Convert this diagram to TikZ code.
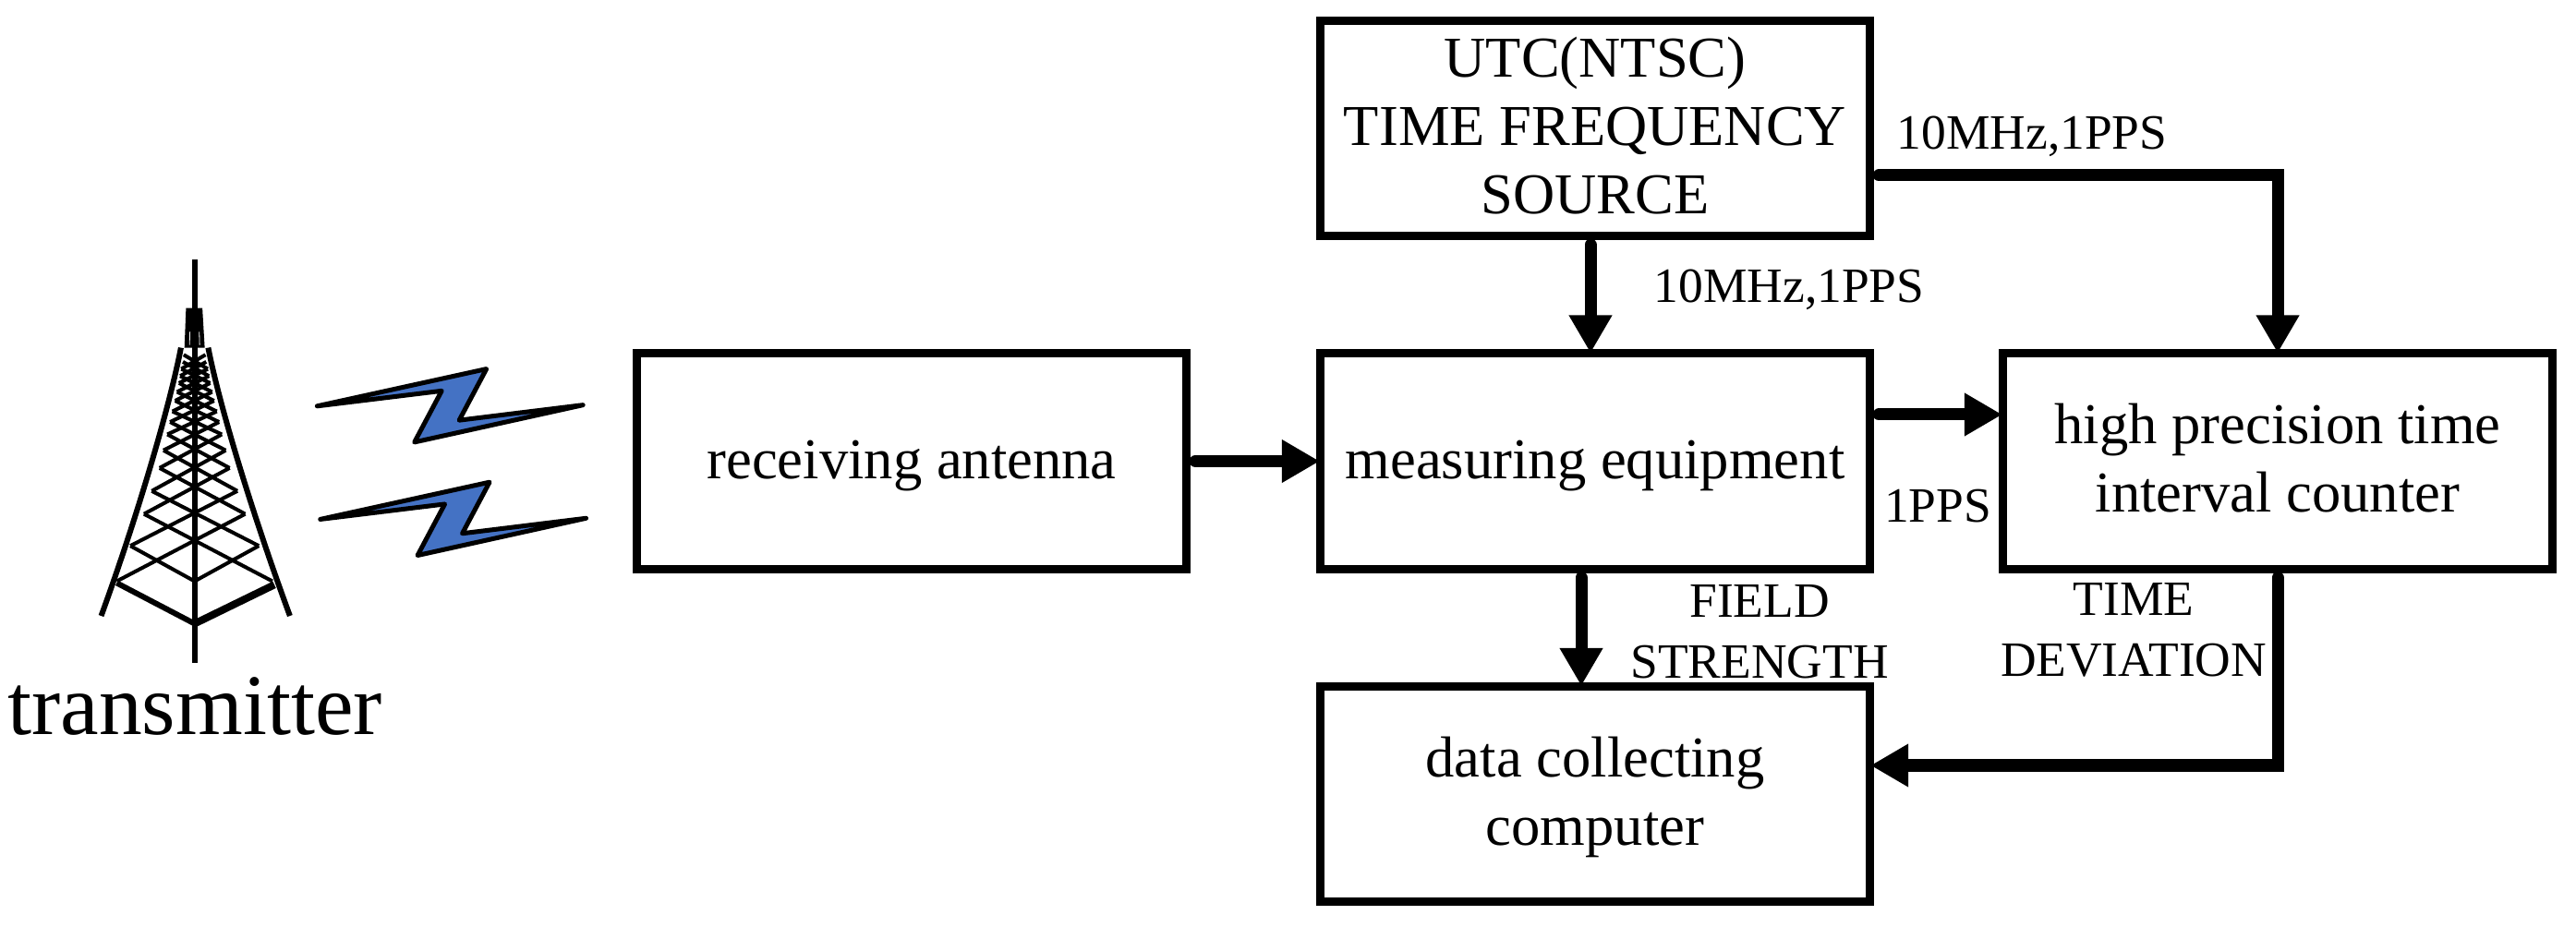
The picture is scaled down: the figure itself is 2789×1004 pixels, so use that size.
\documentclass[tikz,border=0pt]{standalone}
\usepackage{fontspec}
\setmainfont{Liberation Serif}
\usetikzlibrary{arrows.meta}
\definecolor{boltblue}{HTML}{4472C4}
\tikzset{
    block/.style={draw, line width=0.09cm, minimum width=5.95cm, minimum height=2.33cm, inner sep=0pt, align=center, font=\fontsize{17.8}{21}\selectfont},
    flow/.style={line width=0.13cm, line cap=round, shorten <=0.05cm, shorten >=-0.04cm, -{Triangle[length=0.41cm,width=0.44cm]}},
    siglabel/.style={inner sep=0pt, align=center, font=\fontsize{15.2}{18.8}\selectfont}
}
\begin{document}
\begin{tikzpicture}[x=0.01cm,y=-0.01cm]
            \useasboundingbox (0,0) rectangle (2789,1004);

            % Bloecke:
            \node[block,text depth=0.07cm] (utc) at (1727,139) {UTC(NTSC)\\TIME FREQUENCY\\SOURCE};
            \node[block,text height=0.52cm] (meas) at (1727,499.5) {measuring equipment};
            \node[block,text depth=0.07cm] (counter) at (2466,499.5) {high precision time\\interval counter};
            \node[block,text depth=0.07cm] (data) at (1727,860) {data collecting\\computer};
            \node[block,text height=0.52cm] (antenna) at (987,499.5) {receiving antenna};

            % Verbindungen:
            \coordinate (utcright) at (2466,190);
            \coordinate (utcdown) at (1722,320);
            \coordinate (onepps) at (2100,449);
            \coordinate (fielddown) at (1712,680);
            \coordinate (devleft) at (2300,829);
            \draw[flow] (antenna.east) -- (meas.west);
            \draw[flow] (utc.south -| utcdown) -- (meas.north -| utcdown);
            \draw[flow] (utc.east |- utcright) -| (counter.north);
            \draw[flow] (meas.east |- onepps) -- (counter.west |- onepps);
            \draw[flow] (meas.south -| fielddown) -- (data.north -| fielddown);
            \draw[flow] (counter.south) |- (data.east |- devleft);

            % Beschriftungen:
            \node[siglabel,anchor=base] (sigtop) at (2200,162) {10MHz,1PPS};
            \node[siglabel,anchor=base] (sigmid) at (1937,328) {10MHz,1PPS};
            \node[siglabel,anchor=base] (sigpps) at (2098,566) {1PPS};
            \node[siglabel] (sigfield) at (1905,684) {FIELD\\STRENGTH};
            \node[siglabel] (sigdev) at (2310,682) {TIME\\DEVIATION};
            \node[anchor=base,inner sep=0pt,font=\fontsize{26.6}{30}\selectfont] (txlabel) at (211,795) {transmitter};

            % Blitze:
            \begin{scope}[x=0.004209cm,y=-0.003827cm,shift={(0cm,-2.5cm)}]
            \foreach \dx/\dy in {0/0,8/320}
            \draw[line width=0.05cm, line join=round, fill=boltblue] (815+\dx,495+\dy) -- (1250+\dx,390+\dy) -- (1180+\dx,535+\dy) -- (1498+\dx,492+\dy) -- (1065+\dx,597+\dy) -- (1135+\dx,452+\dy) -- cycle;

            % Turm:
            \draw[line width=0.06cm] (500,80) -- (500,1220);
            \fill (478,218) -- (520,218) -- (526,330) -- (474,330) -- cycle;
            \draw[white,line width=0.008cm] (488,285) -- (487,322);
            \draw[white,line width=0.008cm] (512,285) -- (513,322);
            \draw[line width=0.06cm] (260,1088) .. controls (352,810) and (435,500) .. (465,330);
            \draw[line width=0.06cm] (745,1088) .. controls (652,810) and (565,500) .. (535,330);
            \draw[line width=0.04cm] (335,890) -- (500,990) -- (665,890);
            \draw[line width=0.06cm] (300,995) -- (500,1110);
            \draw[line width=0.08cm] (500,1110) -- (705,1000);
            \foreach \xa/\ya/\xb/\yb in {300/990/370/800,335/890/390/735,370/800/410/670,390/735/420/620,
                410/670/430/575,420/620/437/540,430/575/443/510,437/540/450/480,443/510/455/455,
                450/480/460/430,455/455/463/410,460/430/466/390,463/410/470/370,466/390/472/350}
            {
                \draw[line width=0.04cm] (\xa,\ya) -- ({1000-\xb},\yb);
                \draw[line width=0.04cm] ({1000-\xa},\ya) -- (\xb,\yb);
            }
            \end{scope}
      \end{tikzpicture}
\end{document}
